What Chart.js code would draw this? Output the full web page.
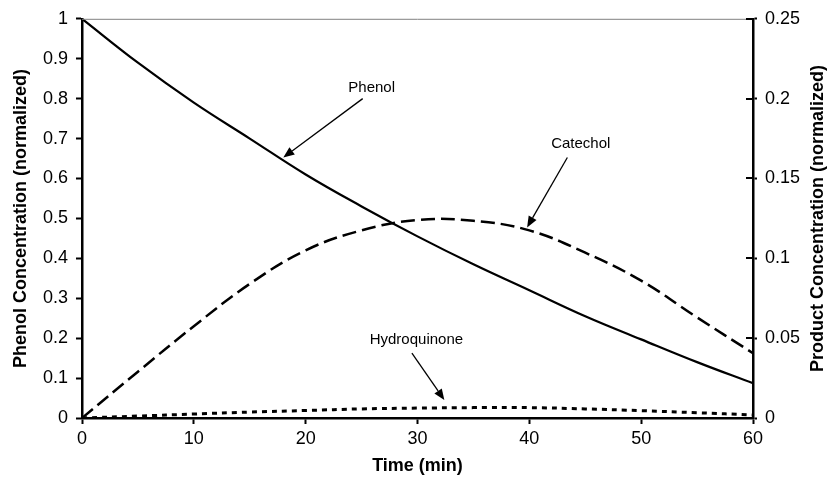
<!DOCTYPE html>
<html>
<head>
<meta charset="utf-8">
<script src="https://cdn.jsdelivr.net/npm/chart.js@4"></script>
<style>
  html, body { margin: 0; padding: 0; background: #fff; }
  #wrap { width: 832px; height: 480px; }
</style>
</head>
<body>
<div id="wrap"><canvas id="conversionChart" width="832" height="480"></canvas></div>
<script>
// Phenol oxidation run: phenol on left axis, products on right axis
const times = [0, 5, 10, 15, 20, 25, 30, 35, 40, 45, 50, 55, 60];
const phenol = [1.0, 0.89, 0.79, 0.70, 0.61, 0.53, 0.455, 0.385, 0.32, 0.255, 0.197, 0.14, 0.087];
const catechol = [0, 0.029, 0.0575, 0.084, 0.105, 0.1175, 0.124, 0.1235, 0.1175, 0.1035, 0.086, 0.063, 0.0406];
const hydroquinone = [0, 0.0012, 0.0025, 0.0037, 0.0047, 0.0057, 0.0062, 0.0065, 0.0065, 0.0057, 0.0046, 0.0033, 0.0019];

const timeTicks = [0, 10, 20, 30, 40, 50, 60];
const phenolTicks = ['0', '0.1', '0.2', '0.3', '0.4', '0.5', '0.6', '0.7', '0.8', '0.9', '1'];
const productTicks = ['0', '0.05', '0.1', '0.15', '0.2', '0.25'];

// callouts, given in time / phenol-axis units
const notes = [
    { text: 'Phenol', at: [25.9, 0.8275], from: [25.1, 0.80], to: [18.0, 0.6525] },
    { text: 'Catechol', at: [44.6, 0.6875], from: [43.4, 0.6525], to: [39.8, 0.4775] },
    { text: 'Hydroquinone', at: [29.9, 0.195], from: [29.5, 0.1625], to: [32.4, 0.045] }
];

const pairs = (ys) => times.map((t, i) => ({ x: t, y: ys[i] }));
const FONT = "'Liberation Sans', Arial, sans-serif";

const calloutPlugin = {
    id: 'callouts',
    afterDatasetsDraw(chart) {
        const c = chart.ctx;
        const x = chart.scales.x, y = chart.scales.y, y1 = chart.scales.y1;
        const area = chart.chartArea;
        c.save();

        // thin frame line across the top
        c.strokeStyle = '#808080';
        c.lineWidth = 1;
        c.beginPath();
        c.moveTo(area.left, area.top + 0.5);
        c.lineTo(area.right, area.top + 0.5);
        c.stroke();

        // inner half of the right-axis tick marks
        c.strokeStyle = '#000';
        c.lineWidth = 2;
        productTicks.forEach((t) => {
            const py = Math.round(y1.getPixelForValue(Number(t)));
            c.beginPath();
            c.moveTo(area.right - 7, py);
            c.lineTo(area.right, py);
            c.stroke();
        });

        c.fillStyle = '#000';
        c.font = '15px ' + FONT;
        c.textAlign = 'center';
        c.textBaseline = 'middle';
        notes.forEach((n) => {
            c.fillText(n.text, x.getPixelForValue(n.at[0]), y.getPixelForValue(n.at[1]));
            const x0 = x.getPixelForValue(n.from[0]), y0 = y.getPixelForValue(n.from[1]);
            const x1 = x.getPixelForValue(n.to[0]), y1p = y.getPixelForValue(n.to[1]);
            const ang = Math.atan2(y1p - y0, x1 - x0);
            const head = 11, half = 4.5;
            const bx = x1 - head * Math.cos(ang), by = y1p - head * Math.sin(ang);
            c.lineWidth = 1.3;
            c.beginPath();
            c.moveTo(x0, y0);
            c.lineTo(bx, by);
            c.stroke();
            c.beginPath();
            c.moveTo(x1, y1p);
            c.lineTo(bx + half * Math.sin(ang), by - half * Math.cos(ang));
            c.lineTo(bx - half * Math.sin(ang), by + half * Math.cos(ang));
            c.closePath();
            c.fill();
        });

        // right axis title, reading bottom to top
        c.font = 'bold 18px ' + FONT;
        c.translate(818, (area.top + area.bottom) / 2);
        c.rotate(-Math.PI / 2);
        c.fillText('Product Concentration (normalized)', 0, 0);
        c.restore();
    }
};

const ctx = document.getElementById('conversionChart').getContext('2d');
const conversionChart = new Chart(ctx, {
    type: 'line',
    data: {
        datasets: [{
            label: 'Phenol',
            data: pairs(phenol),
            yAxisID: 'y',
            borderColor: '#000',
            borderWidth: 2.2,
            pointRadius: 0,
            tension: 0.4
        }, {
            label: 'Catechol',
            data: pairs(catechol),
            yAxisID: 'y1',
            borderColor: '#000',
            borderWidth: 2.5,
            borderDash: [14, 6],
            pointRadius: 0,
            tension: 0.4
        }, {
            label: 'Hydroquinone',
            data: pairs(hydroquinone),
            yAxisID: 'y1',
            borderColor: '#000',
            borderWidth: 3,
            borderDash: [5, 5],
            pointRadius: 0,
            tension: 0.4
        }]
    },
    options: {
        responsive: false,
        animation: false,
        layout: { padding: { top: 18 } },
        plugins: {
            legend: { display: false },
            tooltip: { enabled: false }
        },
        scales: {
            x: {
                type: 'linear',
                min: 0,
                max: 60,
                afterFit: (s) => { s.height = 62; },
                afterBuildTicks: (s) => { s.ticks = timeTicks.map((v) => ({ value: v })); },
                border: { color: '#000', width: 2.5 },
                grid: { drawOnChartArea: false, tickLength: 6, tickColor: '#000', tickWidth: 2 },
                ticks: { color: '#000', font: { family: FONT, size: 18 }, padding: 4, maxRotation: 0 },
                title: { display: true, text: 'Time (min)', color: '#000', font: { family: FONT, size: 18, weight: 'bold' }, padding: { top: 0, bottom: 3 } }
            },
            y: {
                position: 'left',
                min: 0,
                max: 1,
                afterFit: (s) => { s.width = 82; },
                afterBuildTicks: (s) => { s.ticks = phenolTicks.map((v) => ({ value: Number(v) })); },
                border: { color: '#000', width: 2.5 },
                grid: { drawOnChartArea: false, tickLength: 6, tickColor: '#000', tickWidth: 2 },
                ticks: { color: '#000', font: { family: FONT, size: 18 }, padding: 8, callback: (v, i) => phenolTicks[i] },
                title: { display: true, text: 'Phenol Concentration (normalized)', color: '#000', font: { family: FONT, size: 18, weight: 'bold' }, padding: { top: 10, bottom: 0 } }
            },
            y1: {
                position: 'right',
                min: 0,
                max: 0.25,
                afterFit: (s) => { s.width = 79; },
                afterBuildTicks: (s) => { s.ticks = productTicks.map((v) => ({ value: Number(v) })); },
                border: { color: '#000', width: 2.5 },
                grid: { drawOnChartArea: false, tickLength: 4, tickColor: '#000', tickWidth: 2 },
                ticks: { color: '#000', font: { family: FONT, size: 18 }, padding: 8, callback: (v, i) => productTicks[i] }
            }
        }
    },
    plugins: [calloutPlugin]
});
</script>
</body>
</html>
